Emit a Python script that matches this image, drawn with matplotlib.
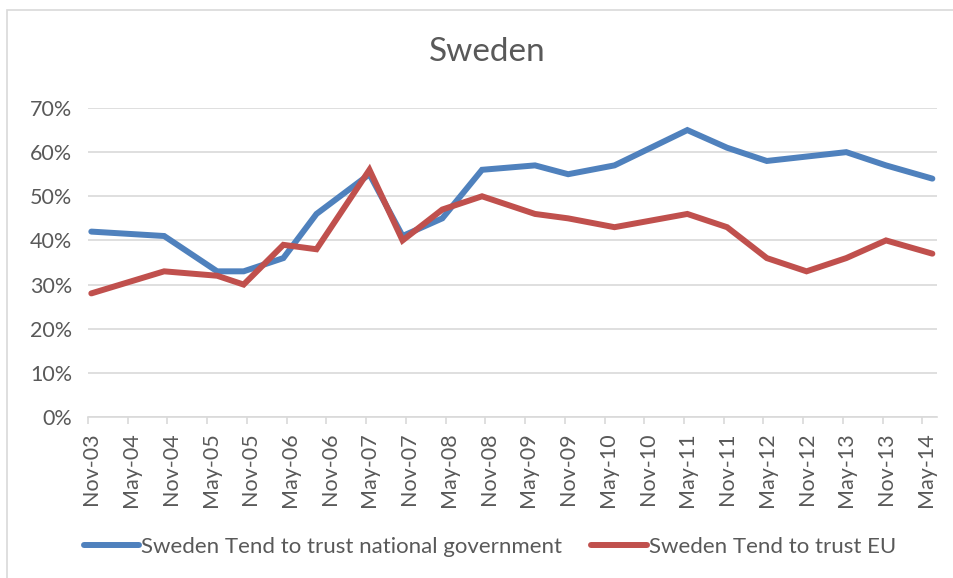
import pandas as pd
import matplotlib
matplotlib.use("Agg")
import matplotlib.pyplot as plt
from matplotlib.patches import Rectangle
from matplotlib.ticker import PercentFormatter

# survey dates (Eurobarometer waves) and values
survey_dates = ["2003-11", "2004-10", "2005-06", "2005-10", "2006-04", "2006-09",
                "2007-05", "2007-10", "2008-04", "2008-10", "2009-06", "2009-11",
                "2010-06", "2011-05", "2011-11", "2012-05", "2012-11", "2013-05",
                "2013-11", "2014-06"]
trust_gov = [42, 41, 33, 33, 36, 46, 55, 41, 45, 56, 57, 55, 57, 65, 61, 58, 59, 60, 57, 54]
trust_eu = [28, 33, 32, 30, 39, 38, 56, 40, 47, 50, 46, 45, 43, 46, 43, 36, 33, 36, 40, 37]
tick_labels = ["Nov-03", "May-04", "Nov-04", "May-05", "Nov-05", "May-06", "Nov-06",
               "May-07", "Nov-07", "May-08", "Nov-08", "May-09", "Nov-09", "May-10",
               "Nov-10", "May-11", "Nov-11", "May-12", "Nov-12", "May-13", "Nov-13",
               "May-14"]


def main():
    plt.rcParams['font.family'] = ['Lato', 'DejaVu Sans']
    grey = '#595959'

    # month index from Nov 2003, point in the middle of its month slot
    start = pd.Period("2003-11", freq="M")
    x = [(pd.Period(d, freq="M") - start).n + 0.5 for d in survey_dates]
    gov = [v / 100 for v in trust_gov]
    eu = [v / 100 for v in trust_eu]

    fig = plt.figure(figsize=(9.54, 5.78), dpi=100)
    ax = fig.add_axes([88 / 954, 1 - 417 / 578, 849 / 954, 309 / 578])

    # chart border (only top/left fall inside the image)
    fig.patches.append(Rectangle((7 / 954, -0.1), 1.2, 1 - 10 / 578 + 0.1,
                                 transform=fig.transFigure, fill=False,
                                 edgecolor='#d9d9d9', linewidth=1.2))

    ax.plot(x, gov, color='#4F81BD', linewidth=4.3, solid_capstyle='round',
            solid_joinstyle='miter', label='Sweden Tend to trust national government')
    ax.plot(x, eu, color='#C0504D', linewidth=4.3, solid_capstyle='round',
            solid_joinstyle='miter', label='Sweden Tend to trust EU')

    ax.set_xlim(0, 128.2)
    ax.set_ylim(0, 0.7)
    ax.set_yticks([i / 10 for i in range(8)])
    ax.yaxis.set_major_formatter(PercentFormatter(1.0, decimals=0))
    ax.grid(axis='y', color='#d9d9d9', linewidth=1.2)
    ax.set_axisbelow(True)

    # tick marks at slot boundaries, labels at slot centres
    ax.set_xticks([6 * i for i in range(len(tick_labels))], minor=True)
    ax.set_xticks([6 * i + 0.5 for i in range(len(tick_labels))])
    ax.set_xticklabels(tick_labels, rotation=90)
    ax.tick_params(axis='x', which='major', length=0, pad=11, labelsize=15.5, labelcolor=grey)
    ax.tick_params(axis='x', which='minor', length=5, color='#d9d9d9', width=1.2)
    ax.tick_params(axis='y', length=0, pad=11.5, labelsize=15.5, labelcolor=grey)

    for s in ['top', 'right', 'left']:
        ax.spines[s].set_visible(False)
    ax.spines['bottom'].set_color('#d9d9d9')
    ax.spines['bottom'].set_linewidth(1.2)

    fig.text(487 / 954, 1 - 52 / 578, 'Sweden', ha='center', va='center',
             fontsize=24, color=grey)

    fig.legend(loc='center', bbox_to_anchor=(490 / 954, 1 - 547 / 578), ncol=2,
               frameon=False, fontsize=16, handlelength=2.5, handletextpad=0.1,
               columnspacing=1.3, labelcolor=grey)

    fig.savefig('out.png', dpi=100)


if __name__ == "__main__":
    main()
